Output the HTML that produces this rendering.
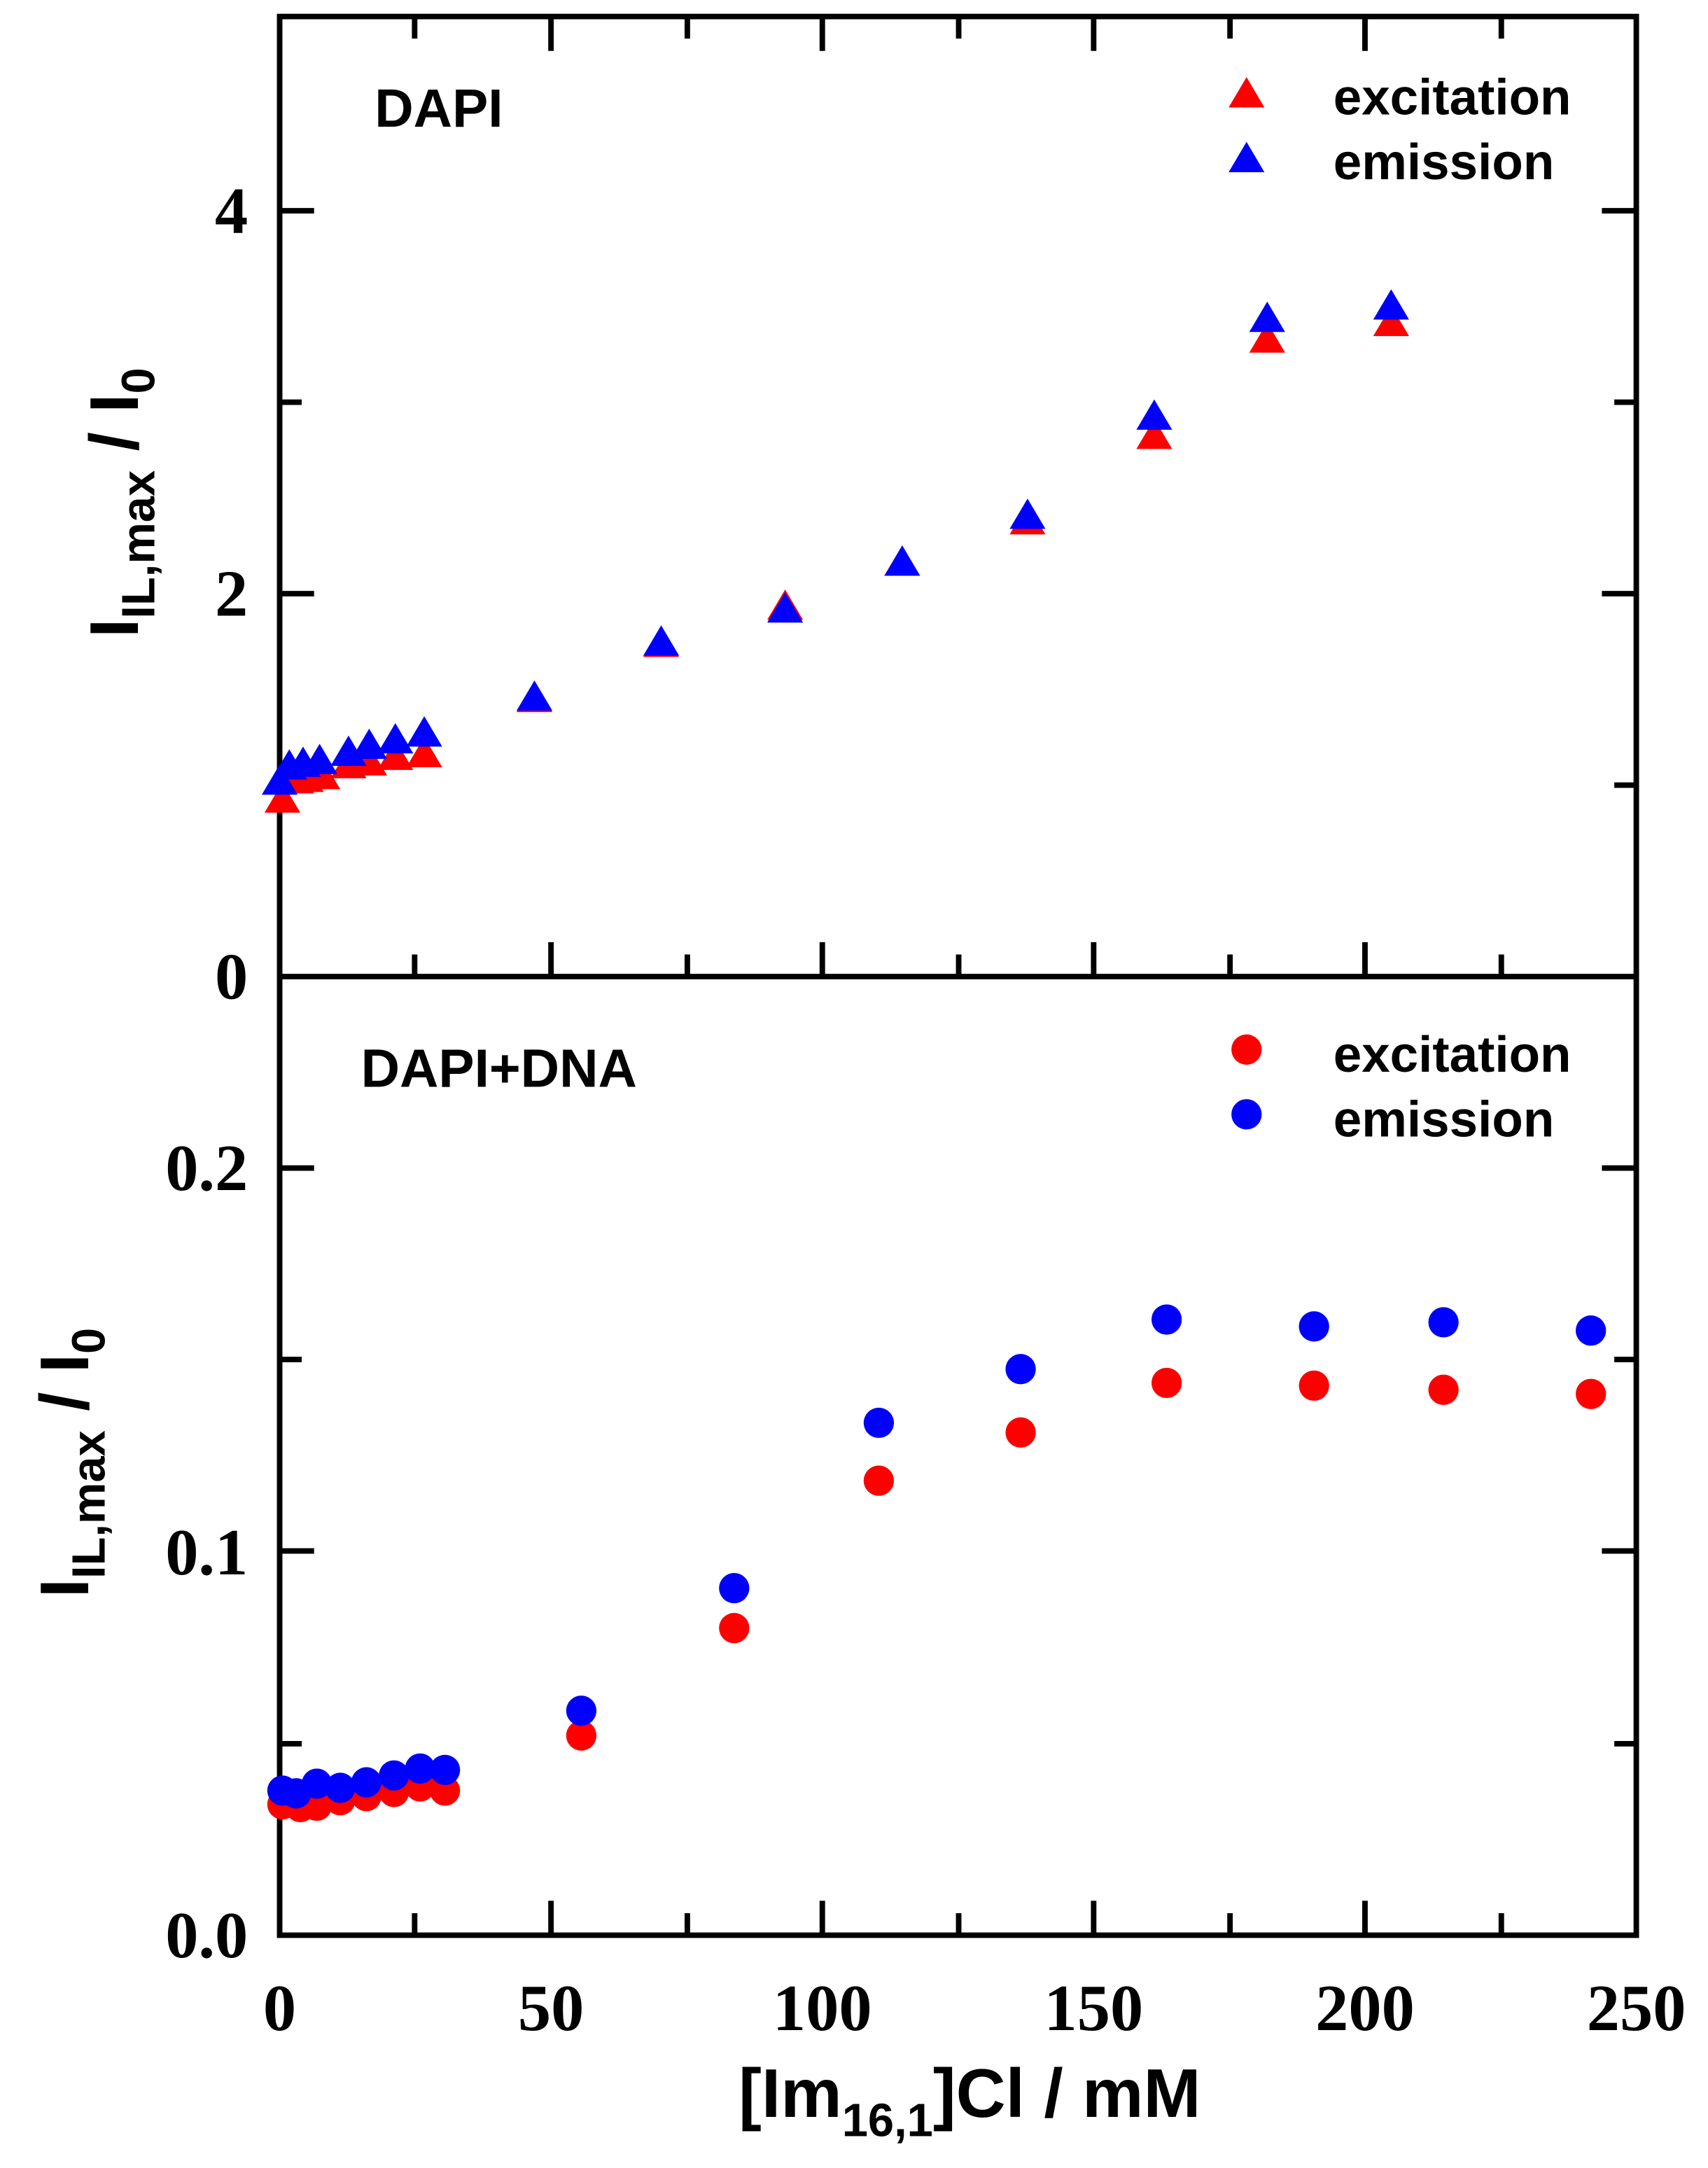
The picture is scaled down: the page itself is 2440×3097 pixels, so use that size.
<!DOCTYPE html>
<html><head><style>html,body{margin:0;padding:0;background:#fff;}svg{display:block}</style></head>
<body>
<svg width="2440" height="3097" viewBox="0 0 1240 1574" xmlns="http://www.w3.org/2000/svg">
<defs>
<path id="tr" d="M0,-12 L13,10 L-13,10 Z"/>
</defs>
<g stroke="#000" stroke-width="4" fill="none">
<rect x="203" y="12" width="985" height="1393"/>
<line x1="203" y1="709" x2="1188" y2="709"/>
<path d="M203,153h25M203,431h25M203,570h16M203,292h16M1188,153h-25M1188,431h-25M1188,570h-16M1188,292h-16"/>
<path d="M203,848h25M203,1126h25M203,987h16M203,1266h16M1188,848h-25M1188,1126h-25M1188,987h-16M1188,1266h-16"/>
<path d="M400,1405v-25M597,1405v-25M794,1405v-25M991,1405v-25M301,1405v-16M499,1405v-16M696,1405v-16M893,1405v-16M1090,1405v-16"/>
<path d="M400,709v-25M597,709v-25M794,709v-25M991,709v-25M301,709v-16M499,709v-16M696,709v-16M893,709v-16M1090,709v-16"/>
<path d="M400,12v25M597,12v25M794,12v25M991,12v25M301,12v16M499,12v16M696,12v16M893,12v16M1090,12v16"/>
</g>
<g fill="#f00">
<use href="#tr" x="205" y="580"/><use href="#tr" x="215" y="566"/><use href="#tr" x="222" y="565"/><use href="#tr" x="234" y="563"/><use href="#tr" x="253" y="555"/><use href="#tr" x="268" y="553"/><use href="#tr" x="287" y="549"/><use href="#tr" x="308" y="547"/><use href="#tr" x="388" y="507"/><use href="#tr" x="480" y="467"/><use href="#tr" x="570" y="440"/><use href="#tr" x="655" y="408"/><use href="#tr" x="746" y="378"/><use href="#tr" x="838" y="316"/><use href="#tr" x="920" y="246"/><use href="#tr" x="1010" y="234"/>
</g>
<g fill="#00f">
<use href="#tr" x="203" y="567"/><use href="#tr" x="210" y="556"/><use href="#tr" x="220" y="554"/><use href="#tr" x="232" y="552"/><use href="#tr" x="253" y="546"/><use href="#tr" x="268" y="541"/><use href="#tr" x="287" y="537"/><use href="#tr" x="308" y="532"/><use href="#tr" x="388" y="506"/><use href="#tr" x="480" y="466"/><use href="#tr" x="570" y="442"/><use href="#tr" x="655" y="408"/><use href="#tr" x="746" y="374"/><use href="#tr" x="838" y="302"/><use href="#tr" x="920" y="231"/><use href="#tr" x="1010" y="222"/>
</g>
<g fill="#f00">
<circle cx="205" cy="1310" r="11"/><circle cx="218" cy="1312" r="11"/><circle cx="230" cy="1311" r="11"/><circle cx="247" cy="1307" r="11"/><circle cx="266" cy="1304" r="11"/><circle cx="286" cy="1301" r="11"/><circle cx="305" cy="1297" r="11"/><circle cx="323" cy="1300" r="11"/><circle cx="422" cy="1260" r="11"/><circle cx="533" cy="1182" r="11"/><circle cx="638" cy="1075" r="11"/><circle cx="741" cy="1040" r="11"/><circle cx="847" cy="1004" r="11"/><circle cx="954" cy="1006" r="11"/><circle cx="1048" cy="1009" r="11"/><circle cx="1155" cy="1012" r="11"/>
</g>
<g fill="#00f">
<circle cx="205" cy="1300" r="11"/><circle cx="215" cy="1302" r="11"/><circle cx="230" cy="1295" r="11"/><circle cx="247" cy="1298" r="11"/><circle cx="266" cy="1294" r="11"/><circle cx="286" cy="1289" r="11"/><circle cx="305" cy="1284" r="11"/><circle cx="323" cy="1285" r="11"/><circle cx="422" cy="1242" r="11"/><circle cx="533" cy="1153" r="11"/><circle cx="638" cy="1033" r="11"/><circle cx="741" cy="994" r="11"/><circle cx="847" cy="958" r="11"/><circle cx="954" cy="963" r="11"/><circle cx="1048" cy="960" r="11"/><circle cx="1155" cy="966" r="11"/>
</g>
<use href="#tr" x="905" y="68" fill="#f00"/><use href="#tr" x="905" y="115" fill="#00f"/>
<circle cx="905" cy="762" r="11" fill="#f00"/><circle cx="905" cy="809" r="11" fill="#00f"/>
<g font-family="Liberation Sans, sans-serif" font-weight="bold" font-size="37" fill="#000">
<text x="968" y="83">excitation</text><text x="968" y="130">emission</text>
<text x="968" y="778">excitation</text><text x="968" y="825">emission</text>
</g>
<g font-family="Liberation Sans, sans-serif" font-weight="bold" font-size="39" fill="#000">
<text x="272" y="92">DAPI</text><text x="262" y="789">DAPI+DNA</text>
</g>
<g font-family="Liberation Serif, serif" font-weight="bold" font-size="48" fill="#000">
<g text-anchor="end">
<text x="180" y="169">4</text><text x="180" y="447">2</text><text x="180" y="725">0</text>
<text x="180" y="864">0.2</text><text x="180" y="1143">0.1</text><text x="180" y="1421">0.0</text>
</g>
<g text-anchor="middle">
<text x="203" y="1474">0</text><text x="400" y="1474">50</text><text x="597" y="1474">100</text><text x="794" y="1474">150</text><text x="991" y="1474">200</text><text x="1188" y="1474">250</text>
</g>
</g>
<g font-family="Liberation Sans, sans-serif" font-weight="bold" font-size="50" fill="#000">
<text transform="translate(100,365) rotate(-90)" text-anchor="middle">I<tspan font-size="34" dy="12">IL,max</tspan><tspan dy="-12"> / I</tspan><tspan font-size="34" dy="12">0</tspan></text>
<text transform="translate(64,1062) rotate(-90)" text-anchor="middle">I<tspan font-size="34" dy="12">IL,max</tspan><tspan dy="-12"> / I</tspan><tspan font-size="34" dy="12">0</tspan></text>
<text x="704" y="1537" text-anchor="middle">[Im<tspan font-size="34" dy="14">16,1</tspan><tspan dy="-14">]Cl / mM</tspan></text>
</g>
</svg>
</body></html>
